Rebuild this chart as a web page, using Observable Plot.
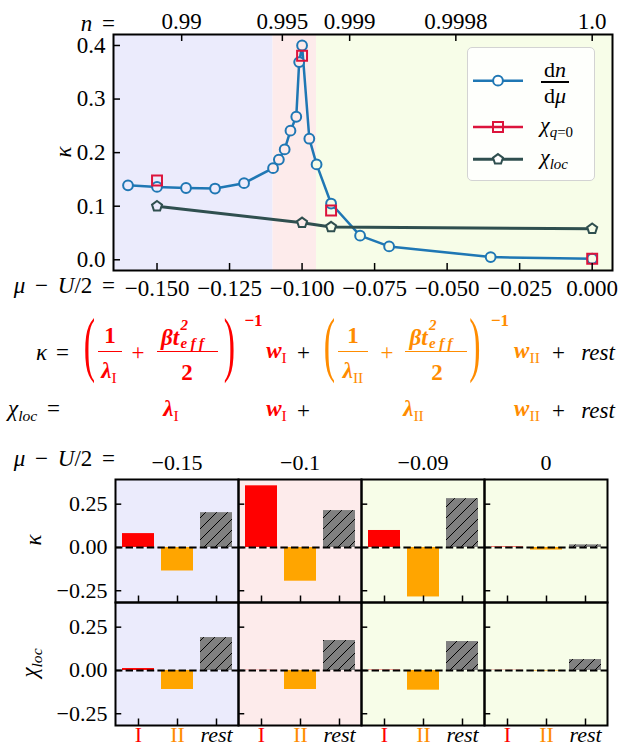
<!DOCTYPE html>
<html>
<head>
<meta charset="utf-8">
<script src="https://cdn.jsdelivr.net/npm/d3@7"></script>
<script src="https://cdn.jsdelivr.net/npm/@observablehq/plot@0.6"></script>
<style>
  html,body{margin:0;padding:0;background:#fff;}
  #root{position:relative;width:621px;height:749px;overflow:hidden;font-family:"Liberation Serif","Times New Roman",serif;color:#000;}
  #root > svg{position:absolute;left:0;overflow:visible;}
  .abs{position:absolute;white-space:nowrap;line-height:1;}
  .bi{font-weight:bold;font-style:italic;}
  .sub{font-size:0.68em;vertical-align:-0.3em;font-weight:normal;font-style:normal;}
  .subi{font-size:0.68em;vertical-align:-0.3em;font-weight:normal;font-style:italic;}
  .ws{word-spacing:4px;}
  .ls{letter-spacing:3.5px;}
</style>
</head>
<body>
<div id="root"></div>
<script>
// ---------------- data ----------------
// top panel: mu - U/2 values and curves
const muDn  = [-0.160, -0.150, -0.140, -0.130, -0.120, -0.110, -0.108, -0.106, -0.104, -0.102, -0.101, -0.100, -0.0975, -0.095, -0.090, -0.080, -0.070, -0.035, 0.000];
const dnDmu = [0.139, 0.136, 0.134, 0.133, 0.143, 0.171, 0.187, 0.206, 0.241, 0.267, 0.369, 0.400, 0.226, 0.178, 0.105, 0.045, 0.025, 0.005, 0.002];
const muChi  = [-0.15, -0.10, -0.09, 0.00];
const chiQ0  = [0.148, 0.381, 0.092, 0.002];
const chiLoc = [0.100, 0.069, 0.061, 0.058];
const xTicks = [-0.15, -0.125, -0.1, -0.075, -0.05, -0.025, 0];
const yTicks = [0, 0.1, 0.2, 0.3, 0.4];
const nTickMu = [-0.1415, -0.1068, -0.0836, -0.047, 0.0];
const nTickLabels = ["0.99", "0.995", "0.999", "0.9998", "1.0"];
const regionEdges = [-1, -0.11, -0.095, 1];
const regionColors = ["#EBEBFC", "#FDEBEB", "#F7FDE8"];

// bottom panels
const panelMu = [-0.15, -0.1, -0.09, 0];
const panelColors = ["#EBEBFC", "#FDEBEB", "#F7FDE8", "#F7FDE8"];
const components = ["I", "II", "rest"];
const kappaI    = [0.080, 0.356, 0.098, 0.003];
const kappaII   = [-0.136, -0.195, -0.286, -0.015];
const kappaRest = [0.201, 0.213, 0.282, 0.015];
const chiI      = [0.011, 0.001, 0.002, 0.001];
const chiII     = [-0.110, -0.110, -0.114, -0.003];
const chiRest   = [0.190, 0.173, 0.167, 0.063];
const barTicks  = [-0.25, 0, 0.25];

// ---------------- setup ----------------
const FONT = '"Liberation Serif", "Times New Roman", serif';
const RED = "#FF0000", ORANGE = "#FF8C00";
const root = document.getElementById("root");

function put(html, x, y, {anchor = "middle", size = 23, color = "#000", extra = "", cls = ""} = {}) {
  const d = document.createElement("div");
  d.className = "abs " + cls;
  d.innerHTML = html;
  d.style.left = x + "px";
  d.style.top = y + "px";
  d.style.fontSize = size + "px";
  d.style.color = color;
  const tx = anchor === "middle" ? "-50%" : anchor === "end" ? "-100%" : "0";
  d.style.transform = `translate(${tx},-50%) ${extra}`;
  root.appendChild(d);
  return d;
}
function hbar(x1, x2, y, color) {
  const d = document.createElement("div");
  d.className = "abs";
  d.style.cssText = `left:${x1}px;top:${y - 0.7}px;width:${x2 - x1}px;height:1.4px;background:${color}`;
  root.appendChild(d);
}

const pentagon = {
  draw(ctx, size) {
    const r = Math.sqrt(size / Math.PI) * 1.05;
    for (let k = 0; k < 5; k++) {
      const a = -Math.PI / 2 + k * 2 * Math.PI / 5;
      const px = r * Math.cos(a), py = r * Math.sin(a);
      if (k) ctx.lineTo(px, py); else ctx.moveTo(px, py);
    }
    ctx.closePath();
  }
};

// ---------------- top plot ----------------
const topW = 621, topH = 300, mL = 113, mR = 9, mT = 34, mB = 30;
const innerW = topW - mL - mR, innerH = topH - mT - mB;
const regions = regionColors.map((c, i) => ({x1: regionEdges[i], x2: regionEdges[i + 1], c}));
const bgAt = mu => regions.find(r => mu >= r.x1 && mu < r.x2).c;
const dnData = muDn.map((mu, i) => ({mu, v: dnDmu[i]}));
const q0Data = muChi.map((mu, i) => ({mu, v: chiQ0[i]}));
const locData = muChi.map((mu, i) => ({mu, v: chiLoc[i]}));

const topPlot = Plot.plot({
  width: topW, height: topH,
  marginLeft: mL, marginRight: mR, marginTop: mT, marginBottom: mB,
  x: {domain: [-0.165, 0.007]},
  y: {domain: [-0.020, 0.4205]},
  color: {type: "identity"},
  style: {fontFamily: FONT, fontSize: "23px", background: "transparent", color: "black"},
  marks: [
    Plot.rect(regions, {x1: "x1", x2: "x2", fill: "c", clip: true}),
    Plot.line(dnData, {x: "mu", y: "v", stroke: "#1f77b4", strokeWidth: 2.5}),
    Plot.dot(dnData, {x: "mu", y: "v", r: 4.9, stroke: "#1f77b4", strokeWidth: 2, fill: d => bgAt(d.mu)}),
    Plot.dot(q0Data, {x: "mu", y: "v", symbol: "square", r: 5.6, stroke: "#DC143C", strokeWidth: 2, fill: "none"}),
    Plot.line(locData, {x: "mu", y: "v", stroke: "#2F4F4F", strokeWidth: 3}),
    Plot.dot(locData, {x: "mu", y: "v", symbol: pentagon, r: 5.0, stroke: "#2F4F4F", strokeWidth: 2, fill: d => bgAt(d.mu)}),
    Plot.tickX(xTicks, {x: d => d, insetTop: innerH - 7, strokeWidth: 1.5}),
    Plot.tickX(nTickMu, {x: d => d, insetBottom: innerH - 7, strokeWidth: 1.5}),
    Plot.tickY(yTicks, {y: d => d, insetRight: innerW - 7, strokeWidth: 1.5}),
    Plot.axisX(xTicks, {anchor: "bottom", tickSize: 0, tickPadding: 9, tickFormat: d3.format(".3f"), label: null}),
    Plot.axisX(nTickMu, {anchor: "top", tickSize: 0, tickPadding: 6, tickFormat: d => nTickLabels[nTickMu.indexOf(d)], label: null}),
    Plot.axisY(yTicks, {anchor: "left", tickSize: 0, tickPadding: 8, tickFormat: d3.format(".1f"), label: null}),
    Plot.frame({stroke: "black", strokeWidth: 2})
  ]
});
topPlot.style.top = "0px";
root.appendChild(topPlot);

// ---------------- bottom bar panels ----------------
const compFill = {I: RED, II: "#FFA500", rest: "url(#hatch)"};
const labelColor = {I: RED, II: ORANGE, rest: "black"};
const bars = [];
panelMu.forEach((mu, i) => {
  bars.push({mu, q: "kappa", comp: "I", v: kappaI[i], f: compFill.I});
  bars.push({mu, q: "kappa", comp: "II", v: kappaII[i], f: compFill.II});
  bars.push({mu, q: "kappa", comp: "rest", v: kappaRest[i], f: compFill.rest});
  bars.push({mu, q: "chi", comp: "I", v: chiI[i], f: compFill.I});
  bars.push({mu, q: "chi", comp: "II", v: chiII[i], f: compFill.II});
  bars.push({mu, q: "chi", comp: "rest", v: chiRest[i], f: compFill.rest});
});
const panels = panelMu.map((mu, i) => ({mu, bg: panelColors[i]}));

const bW = 621, bH = 309, bL = 113, bR = 13, bT = 38, bB = 24;
const panelW = (bW - bL - bR) / panelMu.length, rowH = (bH - bT - bB) / 2;
const barPlot = Plot.plot({
  width: bW, height: bH,
  marginLeft: bL, marginRight: bR, marginTop: bT, marginBottom: bB,
  fx: {domain: panelMu, padding: 0},
  fy: {domain: ["kappa", "chi"], padding: 0, axis: null},
  x: {type: "band", domain: components, paddingInner: 0.18, paddingOuter: 0.13, axis: null},
  y: {domain: [-0.318, 0.3925]},
  color: {type: "identity"},
  style: {fontFamily: FONT, fontSize: "22px", background: "transparent", color: "black"},
  marks: [
    Plot.rect(panels, {fx: "mu", fill: "bg"}),
    Plot.barY(bars, {fx: "mu", fy: "q", x: "comp", y: "v", fill: "f"}),
    Plot.ruleY([0], {stroke: "black", strokeWidth: 2, strokeDasharray: "7.4,3.2"}),
    Plot.tickY(barTicks, {y: d => d, insetRight: panelW - 7, strokeWidth: 1.5}),
    Plot.tickX(components, {x: d => d, insetTop: rowH - 7, strokeWidth: 1.5}),
    Plot.axisY(barTicks, {tickSize: 0, tickPadding: 8, tickFormat: d3.format(".2f"), label: null}),
    Plot.axisFx({anchor: "top", tickSize: 0, tickPadding: 10, tickFormat: d3.format(""), label: null}),
    Plot.text(["I", "II"], {x: d => d, text: d => d, fill: d => labelColor[d], frameAnchor: "bottom", facetAnchor: "bottom", dy: 16}),
    Plot.text(["rest"], {x: d => d, text: d => d, fill: d => labelColor[d], fontStyle: "italic", frameAnchor: "bottom", facetAnchor: "bottom", dy: 16}),
    Plot.frame({stroke: "black", strokeWidth: 2})
  ]
});
// hatch pattern for "rest"
{
  const defs = d3.select(barPlot).insert("defs", ":first-child");
  const pat = defs.append("pattern").attr("id", "hatch").attr("patternUnits", "userSpaceOnUse")
    .attr("width", 11).attr("height", 11);
  pat.append("rect").attr("width", 11).attr("height", 11).attr("fill", "#808080");
  pat.append("path").attr("d", "M0,11L11,0M-3,3L3,-3M8,14L14,8").attr("stroke", "black").attr("stroke-width", 1);
}
barPlot.style.top = "440px";
root.appendChild(barPlot);

// ---------------- text annotations ----------------
put('<i>n</i> =', 115, 22.7, {anchor: "end", cls: "ws"});
put('<i>μ</i> − <i>U</i>/2 =', 115, 285, {anchor: "end", cls: "ws"});
put('<i>κ</i>', 63, 152, {extra: "rotate(-90deg)"});

// legend
{
  const box = document.createElement("div");
  box.className = "abs";
  box.style.cssText = "left:466.7px;top:46.7px;width:126px;height:132px;border:1.5px solid #d3d3d3;border-radius:5px;background:rgba(255,255,255,0.85);";
  root.appendChild(box);
  const sw = d3.select(root).append("svg").attr("width", 60).attr("height", 110)
    .style("position", "absolute").style("left", "468px").style("top", "60px").style("overflow", "visible");
  const rows = [{y: 20.7, c: "#1f77b4", w: 2.5}, {y: 67, c: "#DC143C", w: 2.5}, {y: 99.3, c: "#2F4F4F", w: 3}];
  rows.forEach(r => sw.append("line").attr("x1", 5).attr("x2", 55).attr("y1", r.y).attr("y2", r.y).attr("stroke", r.c).attr("stroke-width", r.w));
  sw.append("circle").attr("cx", 30).attr("cy", 20.7).attr("r", 4.9).attr("fill", "white").attr("stroke", "#1f77b4").attr("stroke-width", 2);
  sw.append("rect").attr("x", 25).attr("y", 62).attr("width", 10).attr("height", 10).attr("fill", "none").attr("stroke", "#DC143C").attr("stroke-width", 2);
  const pts = d3.range(5).map(k => { const a = -Math.PI / 2 + k * 2 * Math.PI / 5; return [30 + 5.2 * Math.cos(a), 99.3 + 5.2 * Math.sin(a)]; });
  sw.append("polygon").attr("points", pts.map(p => p.join(",")).join(" ")).attr("fill", "white").attr("stroke", "#2F4F4F").attr("stroke-width", 2);
  put('d<i>n</i>', 555, 70, {size: 22});
  hbar(541, 569, 82, "#000");
  put('d<i>μ</i>', 555, 96, {size: 22});
  put('<i>χ</i><span class="sub"><i>q</i>=0</span>', 540, 127, {anchor: "start", size: 22});
  put('<i>χ</i><span class="subi">loc</span>', 540, 159, {anchor: "start", size: 22});
}

// equations
{
  const y0 = 352, yn = 335, yd = 372, yp = 345, ys = 320;
  put('<i>κ</i>', 41.5, y0);
  put('=', 62.5, y0);
  const paren = (ch, x, c) => put(ch, x, yp, {size: 34, color: c, extra: "scale(1,2.1)"});
  const betaT = (x, c) => {
    put('<span class="bi">βt</span>', x, 337, {anchor: "start", color: c});
    put('<span class="bi">2</span>', x + 19.5, 325, {anchor: "start", size: 15, color: c});
    put('<span class="bi">eff</span>', x + 19.5, 342.5, {anchor: "start", size: 15, color: c, cls: "ls"});
  };
  // red group
  paren('(', 89.5, RED);
  put('<b>1</b>', 110, yn, {color: RED});
  hbar(98, 122, 351.7, RED);
  put('<span class="bi">λ</span><span class="sub">I</span>', 109, yd, {color: RED});
  put('+', 138, y0, {color: RED});
  betaT(161, RED);
  hbar(157, 218, 351.7, RED);
  put('<b>2</b>', 187, yd, {color: RED});
  paren(')', 229.5, RED);
  put('<b>−1</b>', 253.5, ys, {size: 17, color: RED});
  put('<span class="bi">w</span><span class="sub">I</span>', 276.5, y0, {color: RED});
  put('+', 303.5, y0);
  // orange group
  paren('(', 329.5, ORANGE);
  put('<b>1</b>', 353, yn, {color: ORANGE});
  hbar(338, 368, 351.7, ORANGE);
  put('<span class="bi">λ</span><span class="sub">II</span>', 353, yd, {color: ORANGE});
  put('+', 387, y0, {color: ORANGE});
  betaT(409.5, ORANGE);
  hbar(405, 467, 351.7, ORANGE);
  put('<b>2</b>', 437, yd, {color: ORANGE});
  paren(')', 475, ORANGE);
  put('<b>−1</b>', 500, ys, {size: 17, color: ORANGE});
  put('<span class="bi">w</span><span class="sub">II</span>', 527, y0, {color: ORANGE});
  put('+', 558.5, y0);
  put('<i>rest</i>', 598, y0);

  const y1 = 410;
  put('<i>χ</i><span class="subi">loc</span> =', 8, y1, {anchor: "start", cls: "ws"});
  put('<span class="bi">λ</span><span class="sub">I</span>', 171, y1, {color: RED});
  put('<span class="bi">w</span><span class="sub">I</span>', 276.5, y1, {color: RED});
  put('+', 303.5, y1);
  put('<span class="bi">λ</span><span class="sub">II</span>', 413.5, y1, {color: ORANGE});
  put('<span class="bi">w</span><span class="sub">II</span>', 527, y1, {color: ORANGE});
  put('+', 558.5, y1);
  put('<i>rest</i>', 598, y1);
}

// bottom panel labels
put('<i>μ</i> − <i>U</i>/2 =', 115, 458, {anchor: "end", cls: "ws"});
put('<i>κ</i>', 33, 540, {extra: "rotate(-90deg)"});
put('<i>χ</i><span class="subi">loc</span>', 31, 663, {extra: "rotate(-90deg)"});
</script>
</body>
</html>
